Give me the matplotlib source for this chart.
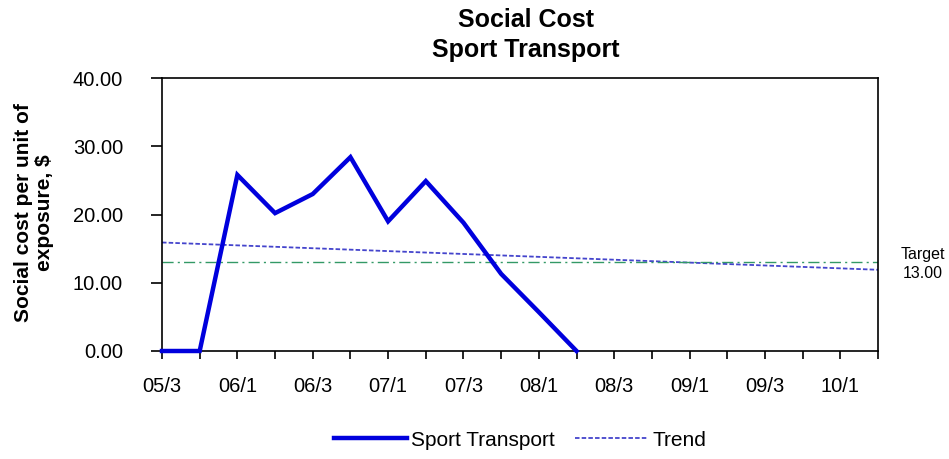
import matplotlib
matplotlib.use("Agg")
import matplotlib.pyplot as plt
from matplotlib import font_manager

plt.rcParams['font.family'] = ['Liberation Sans', 'DejaVu Sans']
names = {f.name for f in font_manager.fontManager.ttflist}
NARROW = ['Liberation Sans Narrow', 'Liberation Sans'] if 'Liberation Sans Narrow' in names else ['Liberation Sans']

periods = ["05/3", "05/4", "06/1", "06/2", "06/3", "06/4", "07/1", "07/2", "07/3", "07/4",
           "08/1", "08/2", "08/3", "08/4", "09/1", "09/2", "09/3", "09/4", "10/1", "10/2"]
sport_transport = [0.0, 0.0, 25.8, 20.2, 23.0, 28.4, 19.0, 24.9, 18.8, 11.3, 5.7, 0.0]
trend_ends = [15.9, 11.9]
target = 13.0
y_ticks = [0, 10, 20, 30, 40]

W, H = 949, 459
fig = plt.figure(figsize=(W / 100, H / 100), dpi=100)
L, R, T, B = 162, 878, 78, 351
ax = fig.add_axes([L / W, 1 - B / H, (R - L) / W, (B - T) / H])

n = len(periods)
x_all = list(range(n))
ax.plot(range(len(sport_transport)), sport_transport, color="#0000DD", lw=3.2,
        solid_joinstyle="miter", label="Sport Transport", zorder=3, clip_on=False)
ax.plot([0, n - 1], trend_ends, color="#4444CC", lw=1.3, ls=(0, (2.5, 1.2)),
        label="Trend", zorder=2)
ax.plot([0, n - 1], [target, target], color="#339966", lw=1.0,
        ls=(0, (8, 3, 1.5, 3)), zorder=2)

ax.set_xlim(0, n - 1)
ax.set_ylim(0, 40)
ax.set_yticks(y_ticks)
ax.set_yticklabels([f"{v:.2f}" for v in y_ticks], fontsize=14.5)
ax.set_xticks(x_all, minor=True)
ax.set_xticks(x_all[::2])
ax.set_xticklabels(periods[::2], fontsize=14.5, family=NARROW)
ax.tick_params(axis="x", which="both", direction="out", length=6, width=1.2, pad=13)
ax.tick_params(axis="y", direction="out", length=8, width=1.2, pad=20)
for s in ax.spines.values():
    s.set_linewidth(1.2)
    s.set_color("black")

fig.text(34 / W, 1 - 213 / H, "Social cost per unit of\nexposure, $", rotation=90,
         ha="center", va="center", fontsize=15, fontweight="bold", linespacing=1.15)

fig.text(526 / W, 1 - 20 / H, "Social Cost", ha="center", va="center",
         fontsize=18, fontweight="bold")
fig.text(526 / W, 1 - 50 / H, "Sport Transport", ha="center", va="center",
         fontsize=18, fontweight="bold")

fig.text(923 / W, 1 - 255 / H, "Target", ha="center", va="center", fontsize=11.5)
fig.text(923 / W, 1 - 273 / H, "13.00", ha="center", va="center", fontsize=11.5)

fig.legend(loc="center", bbox_to_anchor=(520 / W, 1 - 440 / H), ncol=2,
           frameon=False, prop={"family": NARROW, "size": 15}, handlelength=3.5,
           columnspacing=1.0, handletextpad=0.2)

fig.savefig("out.png", dpi=100)
